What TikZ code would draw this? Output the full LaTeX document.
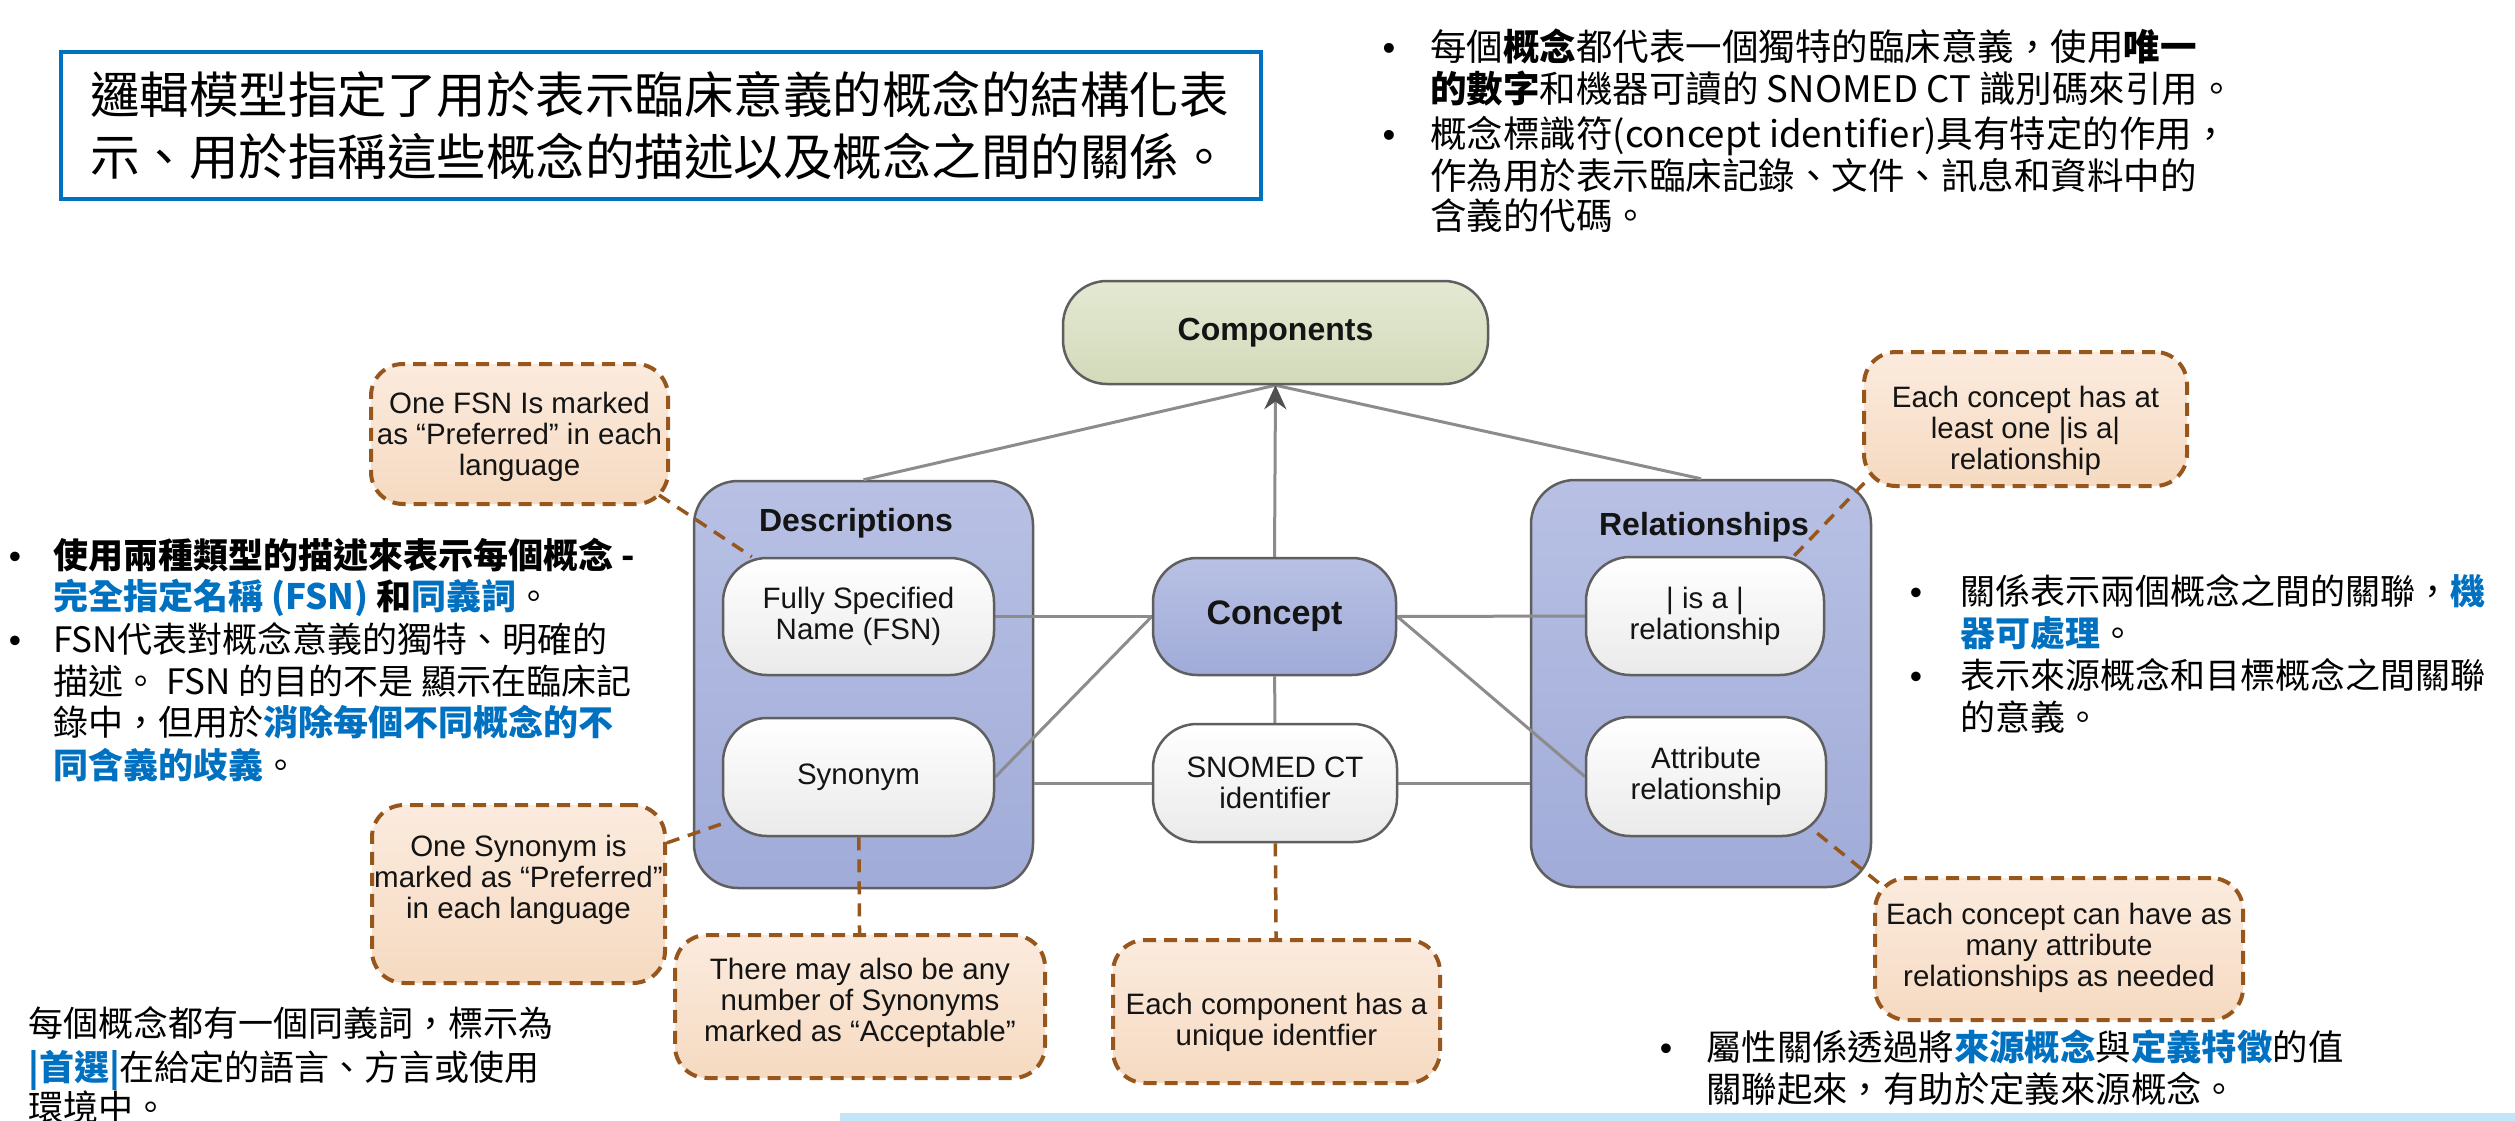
\documentclass[tikz,border=0pt]{standalone}
\usepackage{fontspec}
\setmainfont{Liberation Sans}
\newfontfamily\cjk{Noto Sans CJK TC}
\newfontfamily\dg{Liberation Sans}
\usetikzlibrary{arrows.meta}
\pgfdeclarelayer{back}
\pgfdeclarelayer{mid}
\pgfsetlayers{back,mid,main}
\definecolor{boxBlue}{RGB}{0,112,192}
\definecolor{hlBlue}{RGB}{0,112,192}
\definecolor{contTop}{RGB}{184,193,228}
\definecolor{contBot}{RGB}{160,171,216}
\definecolor{compTop}{RGB}{228,233,210}
\definecolor{compBot}{RGB}{210,218,186}
\definecolor{whBot}{RGB}{234,234,234}
\definecolor{calTop}{RGB}{251,235,222}
\definecolor{calBot}{RGB}{246,218,193}
\definecolor{noteBrown}{RGB}{150,86,28}
\definecolor{edgeGrey}{RGB}{95,95,95}
\definecolor{linkGrey}{RGB}{140,140,140}
\definecolor{arrowGrey}{RGB}{80,80,80}
\definecolor{barBlue}{RGB}{196,228,247}
\definecolor{dgText}{RGB}{20,20,20}
\newcommand\hlb[1]{{\color{hlBlue}\bfseries #1}}
\tikzset{
  box/.style={draw=edgeGrey, line width=2.5pt, rounded corners=44pt, inner sep=0pt, align=center, text=dgText},
  cont/.style={box, top color=contTop, bottom color=contBot},
  comp/.style={box, top color=compTop, bottom color=compBot, font=\dg\bfseries\fontsize{32}{32}\selectfont},
  bnode/.style={box, top color=contTop, bottom color=contBot, font=\dg\bfseries\fontsize{34}{34}\selectfont},
  wnode/.style={box, top color=white, bottom color=whBot, font=\dg\fontsize{29.5}{31}\selectfont},
  title/.style={inner sep=0pt, text=dgText, font=\dg\bfseries\fontsize{32}{32}\selectfont},
  callout/.style={draw=noteBrown, line width=4pt, dash pattern=on 13pt off 8pt, rounded corners=32pt, top color=calTop, bottom color=calBot, inner sep=0pt},
  calltext/.style={inner sep=0pt, align=center, text=dgText, font=\dg\fontsize{29.5}{31}\selectfont},
  link/.style={draw=linkGrey, line width=3pt},
  note/.style={draw=noteBrown, line width=3.5pt, dash pattern=on 13pt off 9pt},
  cjktxt/.style={anchor=base west, inner sep=0pt, text=black, font=\cjk\fontsize{#1}{#1}\selectfont},
  bul/.style={anchor=base, inner sep=0pt, text=black, font=\dg\fontsize{#1}{#1}\selectfont}
}
\begin{document}
\begin{tikzpicture}[x=1pt,y=-1pt]
\useasboundingbox (0,0) rectangle (2515,1121);

% ---------- background and containers ----------
\begin{pgfonlayer}{back}
\fill[white] (0,0) rectangle (2515,1121);
\node[cont, minimum width=339pt, minimum height=407pt] (desc) at (863.5,684.5) {};
\node[cont, minimum width=340pt, minimum height=407pt] (rel) at (1701,683.5) {};
\end{pgfonlayer}
\node[title] (desct) at (856,523) {Descriptions};
\node[title] (relt) at (1704,527) {Relationships};

% ---------- diagram nodes ----------
\node[comp, minimum width=425pt, minimum height=103pt] (components) at (1275.5,332.5) {Components};
\node[bnode, minimum width=243pt, minimum height=117pt] (concept) at (1274.5,616.5) {Concept};
\node[wnode, minimum width=271pt, minimum height=117pt] (fsn) at (858.5,616.5) {Fully Specified\\Name (FSN)};
\node[wnode, minimum width=271pt, minimum height=118pt] (syn) at (858.5,777) {Synonym};
\node[wnode, minimum width=244pt, minimum height=118pt] (snomed) at (1275,783) {SNOMED CT\\identifier};
\node[wnode, minimum width=238pt, minimum height=118pt] (isa) at (1705,616) {| is a |\\relationship};
\node[wnode, minimum width=240pt, minimum height=119pt] (attr) at (1706,776.5) {Attribute\\relationship};

% ---------- callouts ----------
\node[callout, minimum width=297pt, minimum height=140pt] (fsncall) at (519.5,434) {};
\node[calltext] (fsncallt) at (519.5,437) {One FSN Is marked\\as “Preferred” in each\\language};
\node[callout, minimum width=293pt, minimum height=178pt] (syncall) at (518.5,894) {};
\node[calltext] (syncallt) at (518.5,880) {One Synonym is\\marked as “Preferred”\\in each language};
\node[callout, minimum width=370pt, minimum height=143pt] (acccall) at (860,1006.5) {};
\node[calltext] (acccallt) at (860,1003) {There may also be any\\number of Synonyms\\marked as “Acceptable”};
\node[callout, minimum width=327pt, minimum height=143pt] (uniqcall) at (1276.5,1011.5) {};
\node[calltext] (uniqcallt) at (1276.5,1022) {Each component has a\\unique identfier};
\node[callout, minimum width=323pt, minimum height=134pt] (isacall) at (2025.5,419) {};
\node[calltext] (isacallt) at (2025.5,431) {Each concept has at\\least one |is a|\\relationship};
\node[callout, minimum width=368pt, minimum height=142pt] (attrcall) at (2059,949) {};
\node[calltext] (attrcallt) at (2059,948) {Each concept can have as\\many attribute\\relationships as needed};

% ---------- connectors ----------
\begin{pgfonlayer}{mid}
\draw[link] (desc.north) -- (components.south);
\draw[link] (rel.north) -- (components.south);
\draw[link, -{Stealth[length=24pt, width=22pt, color=arrowGrey]}] (concept.north) -- (components.south);
\draw[link] (fsn.east) -- (concept.west);
\draw[link] (syn.east) -- (concept.west);
\draw[link] (snomed.west) -- (snomed.west -| desc.east);
\draw[link] (concept.east) -- (isa.west);
\draw[link] (concept.east) -- (attr.west);
\draw[link] (snomed.east) -- (snomed.east -| rel.west);
\draw[link] (concept) -- (snomed);
\draw[note] ([shift={(-11,-11)}]fsncall.south east) -- ([xshift=30pt]fsn.north west);
\draw[note] (syncall) -- (syn);
\draw[note] (syn) -- (acccall);
\draw[note] (snomed) -- (uniqcall);
\draw[note] ([xshift=-31pt]isa.north east) -- ([shift={(8,-11)}]isacall.south west);
\draw[note] ([shift={(-10,-4)}]attr.south east) -- ([shift={(12,12)}]attrcall.north west);
\end{pgfonlayer}

% ---------- top-left box ----------
\node[draw=boxBlue, line width=4pt, minimum width=1200pt, minimum height=147pt, inner sep=0pt] (topbox) at (660.8,125.5) {};
\node[cjktxt=49.5] (m1) at (90,113.5) {邏輯模型指定了用於表示臨床意義的概念的結構化表};
\node[cjktxt=49.5] (m2) at (90,175) {示、用於指稱這些概念的描述以及概念之間的關係。};

% ---------- top-right bullets ----------
\node[bul=36.5] (tb1) at (1389,61) {•};
\node[cjktxt=36.5] (t1) at (1430,61) {每個{\bfseries 概念}都代表一個獨特的臨床意義，使用{\bfseries 唯一}};
\node[cjktxt=36.5] (t2) at (1430,103) {{\bfseries 的數字}和機器可讀的 SNOMED CT 識別碼來引用。};
\node[bul=36.5] (tb2) at (1389,147) {•};
\node[cjktxt=36.5] (t3) at (1430,147) {概念標識符(concept identifier)具有特定的作用，};
\node[cjktxt=36.5] (t4) at (1430,189) {作為用於表示臨床記錄、文件、訊息和資料中的};
\node[cjktxt=36.5] (t5) at (1430,229) {含義的代碼。};

% ---------- left bullets ----------
\node[bul=35] (lb1) at (15,568) {•};
\node[cjktxt=35] (l1) at (53,568) {{\bfseries 使用兩種類型的描述來表示每個概念 -}};
\node[cjktxt=35] (l2) at (53,609) {\hlb{完全指定名稱 (FSN)} {\bfseries 和}\hlb{同義詞}。};
\node[bul=35] (lb2) at (15,652) {•};
\node[cjktxt=35] (l3) at (53,652) {FSN代表對概念意義的獨特、明確的};
\node[cjktxt=35] (l4) at (53,694) {描述。 FSN 的目的不是 顯示在臨床記};
\node[cjktxt=35] (l5) at (53,735) {錄中，但用於\hlb{消除每個不同概念的不}};
\node[cjktxt=35] (l6) at (53,778) {\hlb{同含義的歧義}。};

% ---------- right bullets ----------
\node[bul=35] (rb1) at (1916,604) {•};
\node[cjktxt=35] (r1) at (1960,604) {關係表示兩個概念之間的關聯，\hlb{機}};
\node[cjktxt=35] (r2) at (1960,646) {\hlb{器可處理}。};
\node[bul=35] (rb2) at (1916,688) {•};
\node[cjktxt=35] (r3) at (1960,688) {表示來源概念和目標概念之間關聯};
\node[cjktxt=35] (r4) at (1960,730) {的意義。};

% ---------- bottom-left text ----------
\node[cjktxt=35] (b1) at (28,1036) {每個概念都有一個同義詞，標示為};
\node[cjktxt=35] (b2) at (28,1080) {\hlb{|首選|}在給定的語言、方言或使用};
\node[cjktxt=35] (b3) at (28,1120) {環境中。};

% ---------- bottom-right bullet ----------
\node[bul=35.4] (brb) at (1666,1060) {•};
\node[cjktxt=35.4] (br1) at (1706,1060) {屬性關係透過將\hlb{來源概念}與\hlb{定義特徵}的值};
\node[cjktxt=35.4] (br2) at (1706,1102) {關聯起來，有助於定義來源概念。};

% ---------- bottom bar ----------
\fill[barBlue] (840,1113) rectangle (2515,1121);
\end{tikzpicture}
\end{document}
